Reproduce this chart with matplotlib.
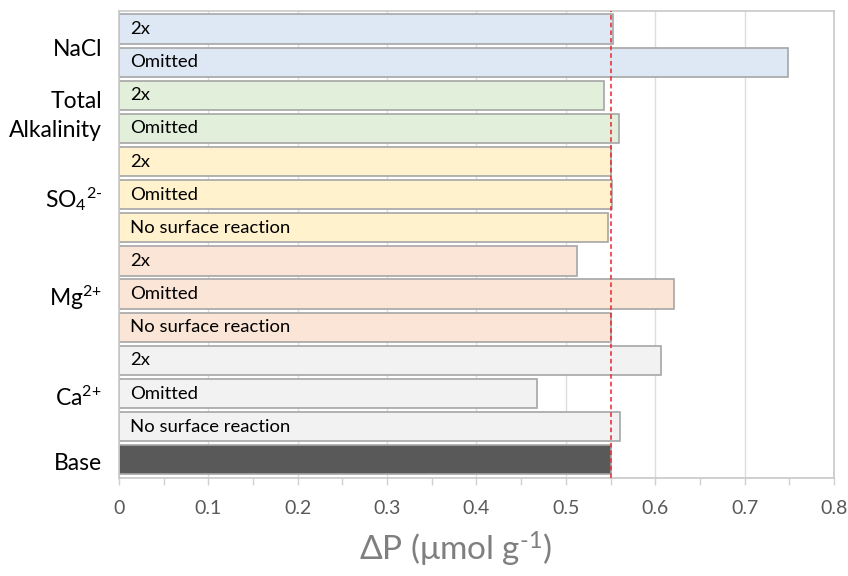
import numpy as np
import matplotlib
matplotlib.use("Agg")
import matplotlib.pyplot as plt

plt.rcParams['font.family'] = ['Lato', 'DejaVu Sans']
plt.rcParams['mathtext.fontset'] = 'custom'
plt.rcParams['mathtext.rm'] = 'Lato'
plt.rcParams['mathtext.default'] = 'regular'

# bars listed top to bottom
conditions = ['2x', 'Omitted',
              '2x', 'Omitted',
              '2x', 'Omitted', 'No surface reaction',
              '2x', 'Omitted', 'No surface reaction',
              '2x', 'Omitted', 'No surface reaction',
              '']
groups = ['NaCl', 'NaCl',
          'TA', 'TA',
          'SO4', 'SO4', 'SO4',
          'Mg', 'Mg', 'Mg',
          'Ca', 'Ca', 'Ca',
          'Base']
delta_p = [0.553, 0.749,
           0.543, 0.560,
           0.551, 0.552, 0.547,
           0.513, 0.621, 0.551,
           0.606, 0.468, 0.561,
           0.551]
base_value = 0.551

group_colors = {'NaCl': '#DEE8F4', 'TA': '#E2EFDA', 'SO4': '#FFF2CC',
                'Mg': '#FBE5D6', 'Ca': '#F2F2F2', 'Base': '#595959'}
group_labels = {'NaCl': 'NaCl', 'TA': 'Total\nAlkalinity',
                'SO4': r'SO$_4$$^{2\text{-}}$',
                'Mg': r'Mg$^{2\text{+}}$', 'Ca': r'Ca$^{2\text{+}}$', 'Base': 'Base'}

n = len(delta_p)
ypos = np.arange(n)[::-1]

fig = plt.figure(figsize=(8.48, 5.76), dpi=100)
ax = fig.add_axes([0.1403, 0.1701, 0.8432, 0.8113])

ax.barh(ypos, delta_p, height=0.88,
        color=[group_colors[g] for g in groups],
        edgecolor='#A6A6A6', linewidth=1.2, zorder=2)

for y, c in zip(ypos, conditions):
    ax.text(0.012, y, c, va='center', ha='left', fontsize=13.3, color='black', zorder=3)

ax.axvline(base_value, color='#E8262A', linestyle=(0, (3, 2)), linewidth=1.1, zorder=4)

ax.set_xlim(0, 0.8)
ax.set_ylim(-0.55, n - 0.45)
ax.set_xticks(np.arange(0, 0.81, 0.1))
ax.set_xticklabels(['0', '0.1', '0.2', '0.3', '0.4', '0.5', '0.6', '0.7', '0.8'])
ax.set_xticks(np.arange(0.05, 0.8, 0.1), minor=True)
ax.tick_params(axis='x', which='both', direction='out', length=5, width=1,
               color='#D0D0D0', labelcolor='#595959', labelsize=14, pad=11)
ax.set_yticks([])
ax.grid(axis='x', color='#DDDDDD', linewidth=1, zorder=0)
ax.set_axisbelow(True)

for side in ['top', 'right', 'left', 'bottom']:
    ax.spines[side].set_color('#C8C8C8')
    ax.spines[side].set_linewidth(1.2)

# group labels centred on their bars
order = []
for g in groups:
    if g not in order:
        order.append(g)
for g in order:
    ys = [y for y, gg in zip(ypos, groups) if gg == g]
    ax.text(-0.019, np.mean(ys) - 0.12, group_labels[g], ha='right', va='center',
            fontsize=16.5, color='black', linespacing=1.5,
            transform=ax.transData, clip_on=False)

ax.set_xlabel(r'ΔP (μmol g$^{\text{-}1}$)', fontsize=24, color='#7F7F7F')
ax.xaxis.set_label_coords(0.471, -0.11)

fig.savefig('out.png', dpi=100)
